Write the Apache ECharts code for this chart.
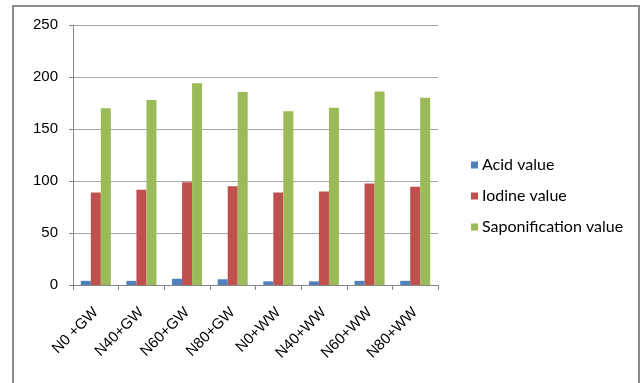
<!DOCTYPE html>
<html>
<head>
<meta charset="utf-8">
<script src="https://cdn.jsdelivr.net/npm/echarts@6/dist/echarts.min.js"></script>
<style>
  html, body { margin: 0; padding: 0; background: #fff; }
  #chart { width: 642px; height: 383px; }
</style>
</head>
<body>
<div id="chart"></div>
<script>
// Treatments (nitrogen level + water source)
const categories = ['N0 +GW', 'N40+GW', 'N60+GW', 'N80+GW', 'N0+WW', 'N40+WW', 'N60+WW', 'N80+WW'];

// Oil quality measurements per treatment
const acidValue = [4, 4, 6, 5.5, 3.5, 3.5, 4, 4];
const iodineValue = [89, 91.5, 98.7, 95, 89, 90, 97.5, 94.5];
const saponificationValue = [170, 178, 194, 185.5, 167, 170.5, 186, 180];

const seriesNames = ['Acid value', 'Iodine value', 'Saponification value'];
const seriesColors = ['#4f81bd', '#c0504d', '#9bbb59'];

const axisFont = 'Liberation Sans, Arial, sans-serif';
const legendFont = 'Lato, Open Sans, sans-serif';

const chart = echarts.init(document.getElementById('chart'), null, { renderer: 'canvas' });

const values = [acidValue, iodineValue, saponificationValue];

chart.setOption({
  animation: false,
  backgroundColor: '#fff',
  graphic: [{
    type: 'polyline',
    shape: { points: [[13, 400], [13, 6], [639, 6], [639, 400]] },
    style: { stroke: '#8c8c8c', lineWidth: 2, fill: null },
    silent: true
  }],
  grid: { left: 73, right: 204, top: 25, bottom: 98, containLabel: false },
  legend: {
    orient: 'vertical',
    left: 466,
    top: 152,
    itemWidth: 7,
    itemHeight: 7,
    itemGap: 15,
    icon: 'rect',
    textStyle: { fontFamily: legendFont, fontSize: 16, color: '#000', padding: [0, 0, 0, -1] },
    data: seriesNames
  },
  xAxis: {
    type: 'category',
    data: categories,
    axisLine: { lineStyle: { color: '#868686', width: 1 } },
    axisTick: { show: true, length: 5, lineStyle: { color: '#868686' }, alignWithLabel: false },
    axisLabel: {
      rotate: 45,
      margin: 25,
      interval: 0,
      fontFamily: axisFont,
      fontSize: 15,
      color: '#000'
    }
  },
  yAxis: {
    type: 'value',
    min: 0,
    max: 250,
    interval: 50,
    axisLine: { show: true, lineStyle: { color: '#868686', width: 1 } },
    axisTick: { show: true, length: 4, lineStyle: { color: '#868686' } },
    axisLabel: { fontFamily: axisFont, fontSize: 15, color: '#000', margin: 15 },
    splitLine: { show: true, lineStyle: { color: '#a6a6a6', width: 1 } }
  },
  series: seriesNames.map((name, i) => ({
    name: name,
    type: 'bar',
    data: values[i],
    barWidth: 10,
    barGap: '0%',
    barCategoryGap: '34%',
    itemStyle: { color: seriesColors[i] }
  }))
});
</script>
</body>
</html>
